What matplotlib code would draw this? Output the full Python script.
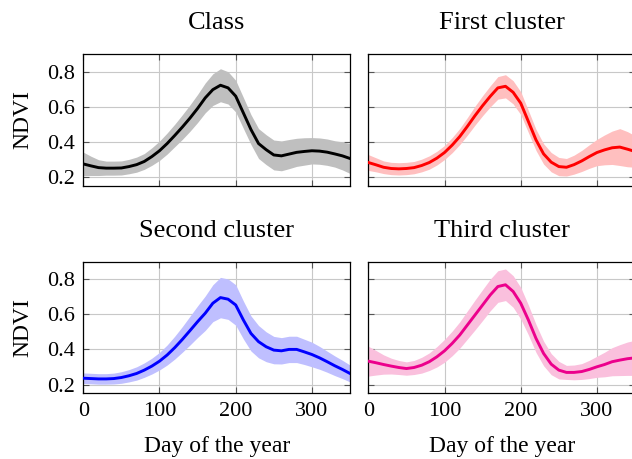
#!/usr/bin/env python3

import matplotlib.pyplot as plt
from matplotlib.ticker import MultipleLocator

plt.rcParams["font.family"] = ["Liberation Serif", "DejaVu Serif"]

# day of the year, sampled every 10 days
days = [0, 10, 20, 30, 40, 50, 60, 70, 80, 90, 100, 110, 120, 130, 140, 150,
        160, 170, 180, 190, 200, 210, 220, 230, 240, 250, 260, 270, 280, 290,
        300, 310, 320, 330, 340, 350]

class_mean = [0.274, 0.263, 0.253, 0.250, 0.250, 0.251, 0.259, 0.270, 0.288,
              0.316, 0.349, 0.390, 0.436, 0.484, 0.535, 0.590, 0.650, 0.697,
              0.722, 0.707, 0.660, 0.565, 0.470, 0.390, 0.355, 0.325, 0.320,
              0.330, 0.340, 0.345, 0.349, 0.347, 0.341, 0.331, 0.320, 0.305]
class_std = [0.067, 0.055, 0.045, 0.040, 0.040, 0.040, 0.041, 0.043, 0.045,
             0.050, 0.055, 0.060, 0.064, 0.070, 0.075, 0.080, 0.085, 0.090,
             0.094, 0.092, 0.090, 0.088, 0.085, 0.085, 0.085, 0.085, 0.085,
             0.083, 0.080, 0.078, 0.075, 0.075, 0.075, 0.075, 0.080, 0.085]

first_mean = [0.282, 0.269, 0.255, 0.248, 0.246, 0.248, 0.253, 0.265, 0.282,
              0.307, 0.339, 0.381, 0.430, 0.488, 0.549, 0.606, 0.659, 0.707,
              0.716, 0.682, 0.620, 0.516, 0.411, 0.331, 0.284, 0.259, 0.255,
              0.270, 0.291, 0.316, 0.339, 0.354, 0.366, 0.370, 0.358, 0.345]
first_std = [0.045, 0.040, 0.036, 0.035, 0.035, 0.035, 0.035, 0.036, 0.038,
             0.039, 0.040, 0.043, 0.046, 0.050, 0.054, 0.057, 0.060, 0.064,
             0.066, 0.066, 0.065, 0.063, 0.060, 0.058, 0.055, 0.052, 0.050,
             0.054, 0.060, 0.067, 0.075, 0.085, 0.095, 0.105, 0.100, 0.090]

second_mean = [0.236, 0.234, 0.232, 0.232, 0.234, 0.240, 0.250, 0.263, 0.282,
               0.305, 0.333, 0.368, 0.410, 0.457, 0.507, 0.558, 0.606, 0.663,
               0.695, 0.686, 0.653, 0.568, 0.491, 0.444, 0.415, 0.396, 0.392,
               0.400, 0.400, 0.386, 0.371, 0.352, 0.330, 0.307, 0.286, 0.263]
second_std = [0.030, 0.030, 0.030, 0.030, 0.031, 0.033, 0.035, 0.038, 0.041,
              0.045, 0.050, 0.057, 0.065, 0.073, 0.082, 0.090, 0.098, 0.105,
              0.115, 0.115, 0.115, 0.108, 0.100, 0.092, 0.085, 0.078, 0.075,
              0.075, 0.075, 0.072, 0.070, 0.065, 0.060, 0.056, 0.052, 0.048]

third_mean = [0.333, 0.324, 0.314, 0.305, 0.297, 0.291, 0.297, 0.310, 0.330,
              0.358, 0.392, 0.434, 0.482, 0.539, 0.596, 0.653, 0.710, 0.758,
              0.768, 0.730, 0.663, 0.568, 0.463, 0.377, 0.316, 0.282, 0.269,
              0.269, 0.274, 0.286, 0.301, 0.314, 0.330, 0.339, 0.347, 0.352]
third_std = [0.085, 0.070, 0.055, 0.045, 0.040, 0.038, 0.040, 0.045, 0.050,
             0.058, 0.065, 0.070, 0.075, 0.080, 0.085, 0.088, 0.090, 0.090,
             0.090, 0.090, 0.090, 0.085, 0.080, 0.070, 0.060, 0.050, 0.040,
             0.042, 0.045, 0.052, 0.060, 0.070, 0.080, 0.088, 0.095, 0.100]

titles = ["Class", "First cluster", "Second cluster", "Third cluster"]
line_colors = ["black", "#ff0000", "#0000ff", "#ec008c"]
fill_colors = ["#bfbfbf", "#ffbfbf", "#bfbfff", "#fac0dd"]
series = [(class_mean, class_std), (first_mean, first_std),
          (second_mean, second_std), (third_mean, third_std)]

# axes boxes in figure fraction: left, bottom, width, height
boxes = [
    [0.1318, 0.5954, 0.422, 0.287],
    [0.5828, 0.5954, 0.422, 0.287],
    [0.1318, 0.1431, 0.422, 0.287],
    [0.5828, 0.1431, 0.422, 0.287],
]

fig = plt.figure(figsize=(6.32, 4.59), dpi=100)

for i, (title, lc, fc, (mean, std), box) in enumerate(
    zip(titles, line_colors, fill_colors, series, boxes)
):
    ax = fig.add_axes(box)
    upper = [m + s for m, s in zip(mean, std)]
    lower = [m - s for m, s in zip(mean, std)]
    ax.fill_between(days, lower, upper, color=fc, linewidth=0, zorder=2)
    ax.plot(days, mean, color=lc, linewidth=2.1, zorder=3)

    ax.set_xlim(0, 350)
    ax.set_ylim(0.15, 0.9)
    ax.xaxis.set_major_locator(MultipleLocator(100))
    ax.set_yticks([0.2, 0.4, 0.6, 0.8])
    ax.grid(color="#c8c8c8", linewidth=0.8, zorder=1)
    ax.set_axisbelow(True)
    ax.tick_params(direction="in", top=True, right=True, length=4,
                   color="#555555", labelsize=16)
    ax.tick_params(axis="y", pad=6)
    ax.tick_params(axis="x", pad=6)
    for sp in ax.spines.values():
        sp.set_linewidth(0.9)

    ax.set_title(title, fontsize=19, pad=18)

    if i % 2 == 0:
        ax.set_ylabel("NDVI", fontsize=17, labelpad=10)
    else:
        ax.tick_params(labelleft=False)
    if i < 2:
        ax.tick_params(labelbottom=False)
    else:
        ax.set_xlabel("Day of the year", fontsize=17, labelpad=11)

fig.savefig("out.png", dpi=100)
